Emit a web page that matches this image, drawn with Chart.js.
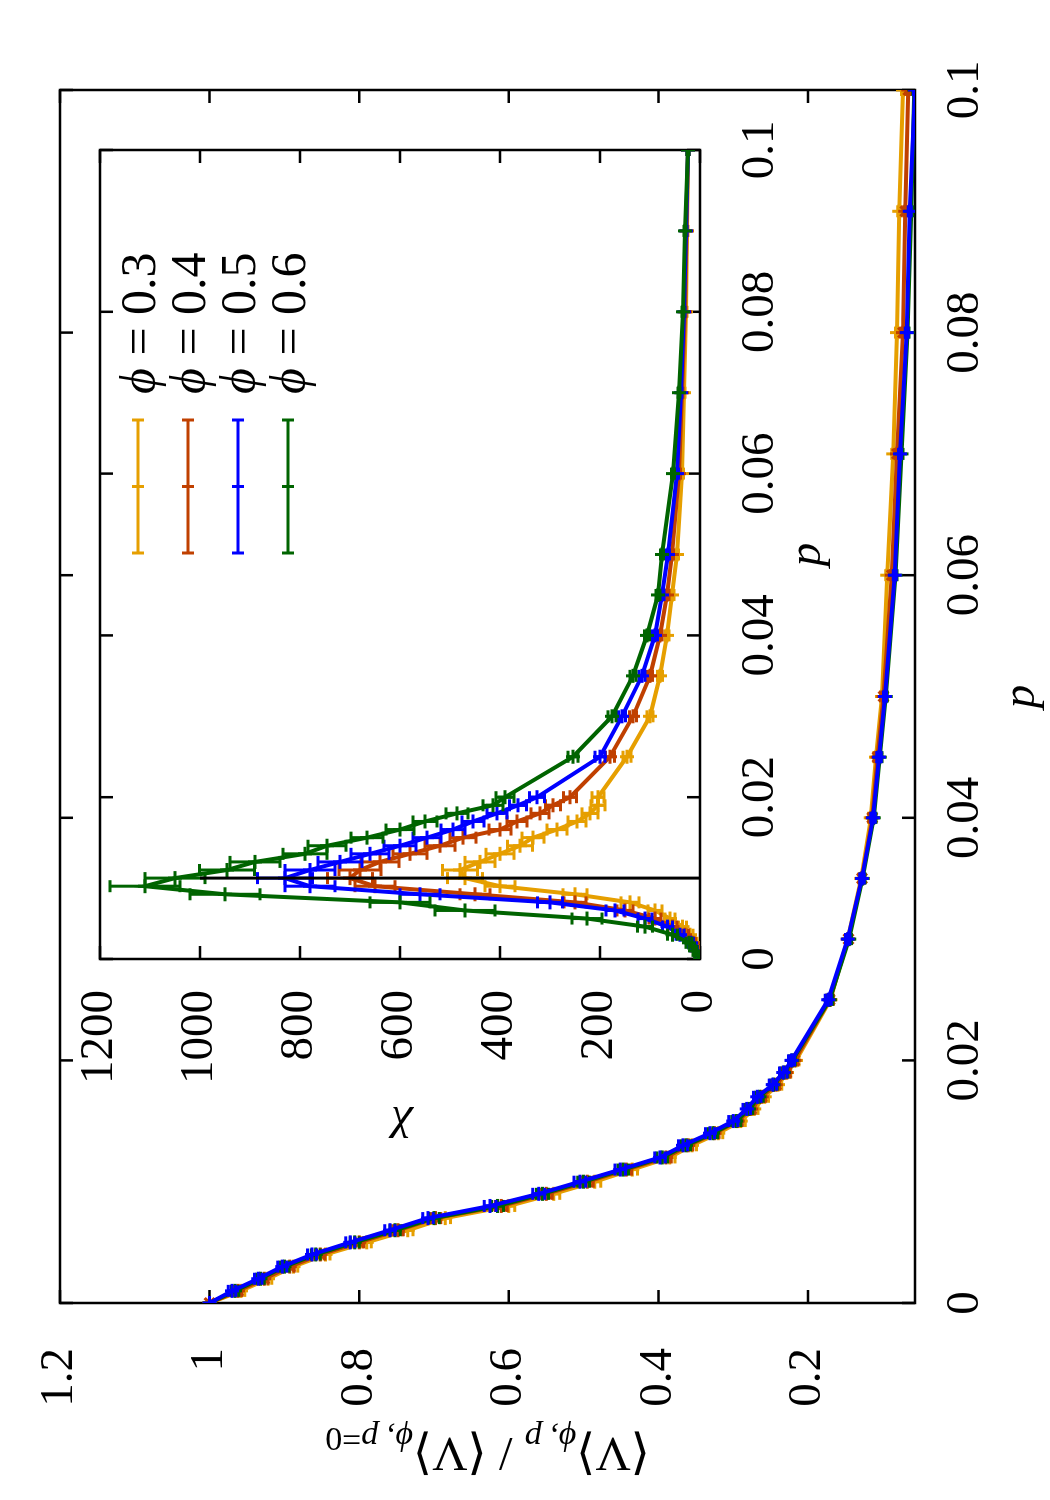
<!DOCTYPE html>
<html>
<head>
<meta charset="utf-8">
<script src="https://cdn.jsdelivr.net/npm/chart.js@4.4.1/dist/chart.umd.min.js"></script>
<style>
  html, body { margin: 0; padding: 0; background: #fff; overflow: hidden; }
  /* the figure is drawn landscape and turned a quarter turn, like the original eps */
  #page { position: absolute; left: 0; top: 0; width: 1500px; height: 1050px;
          transform-origin: 0 0; transform: translate(0, 1500px) rotate(-90deg); background: #fff; }
  #page canvas { position: absolute; left: 0; top: 0; }
</style>
</head>
<body>
<div id="page">
  <canvas id="mainChart" width="1500" height="1050"></canvas>
  <canvas id="insetChart" width="1500" height="1050"></canvas>
</div>
<script>
const FONT = '"Liberation Serif", "DejaVu Serif", serif';

// legend entries
const phiLabels = ['0.3', '0.4', '0.5', '0.6'];

// shared p grid
const pValues = [0, 0.001, 0.002, 0.003, 0.004, 0.005, 0.006, 0.007, 0.008, 0.009, 0.01,
  0.011, 0.012, 0.013, 0.014, 0.015, 0.016, 0.017, 0.018, 0.019, 0.02,
  0.025, 0.03, 0.035, 0.04, 0.045, 0.05, 0.06, 0.07, 0.08, 0.09, 0.1];

// main plot: <V>_{phi,p} / <V>_{phi,p=0}
const ratio03 = [1, 0.958, 0.922, 0.888, 0.845, 0.79, 0.735, 0.685, 0.6, 0.54, 0.485,
  0.435, 0.385, 0.355, 0.32, 0.29, 0.272, 0.258, 0.24, 0.228, 0.216,
  0.17, 0.147, 0.129, 0.116, 0.109, 0.101, 0.094, 0.086, 0.081, 0.078, 0.073];
const ratio04 = [1, 0.962, 0.927, 0.893, 0.852, 0.8, 0.748, 0.698, 0.61, 0.55, 0.495,
  0.443, 0.39, 0.36, 0.325, 0.294, 0.276, 0.262, 0.243, 0.229, 0.218,
  0.171, 0.146, 0.128, 0.114, 0.107, 0.099, 0.088, 0.081, 0.073, 0.07, 0.066];
const ratio05 = [1, 0.97, 0.935, 0.903, 0.863, 0.812, 0.759, 0.708, 0.625, 0.56, 0.505,
  0.451, 0.398, 0.367, 0.331, 0.3, 0.282, 0.268, 0.247, 0.233, 0.222,
  0.173, 0.147, 0.128, 0.113, 0.105, 0.097, 0.084, 0.077, 0.068, 0.064, 0.057];
const ratio06 = [1, 0.966, 0.932, 0.9, 0.858, 0.806, 0.752, 0.7, 0.615, 0.555, 0.5,
  0.447, 0.395, 0.363, 0.327, 0.296, 0.279, 0.265, 0.246, 0.232, 0.221,
  0.171, 0.145, 0.127, 0.112, 0.104, 0.096, 0.083, 0.075, 0.067, 0.062, 0.058];
const ratioErr = [0, 0.005, 0.005, 0.006, 0.006, 0.006, 0.007, 0.007, 0.008, 0.008, 0.008,
  0.007, 0.007, 0.006, 0.006, 0.006, 0.005, 0.005, 0.005, 0.005, 0.004,
  0.004, 0.003, 0.003, 0.003, 0.003, 0.002, 0.002, 0.002, 0.002, 0.002, 0.002];

// inset: susceptibility chi
const chi03 = [0, 5, 10, 20, 35, 60, 90, 140, 250, 400, 470,
  480, 440, 400, 360, 334, 286, 246, 220, 204, 204,
  146, 100, 80, 66, 56, 46, 36, 32, 28, 26, 24];
const chi04 = [0, 6, 14, 30, 55, 90, 150, 250, 450, 650, 700,
  680, 640, 580, 520, 474, 400, 366, 320, 294, 260,
  180, 134, 100, 80, 66, 56, 42, 36, 30, 27, 24];
const chi05 = [0, 8, 18, 40, 65, 110, 170, 300, 560, 780, 830,
  780, 720, 660, 600, 546, 494, 454, 406, 364, 326,
  200, 156, 116, 90, 76, 64, 46, 38, 32, 28, 24];
const chi06 = [0, 10, 22, 55, 110, 226, 470, 600, 950, 1110, 1050,
  946, 890, 790, 746, 666, 600, 550, 486, 414, 390,
  254, 176, 134, 106, 84, 76, 54, 42, 34, 30, 24];
const chiErr03 = [0, 3, 4, 6, 8, 10, 14, 18, 24, 30, 35, 35, 30, 28, 25, 22, 20, 18, 16, 14, 12, 8, 6, 5, 4, 4, 3, 3, 2, 2, 2, 2];
const chiErr04 = [0, 3, 5, 7, 9, 12, 16, 22, 30, 40, 45, 42, 38, 34, 30, 26, 22, 20, 18, 15, 13, 9, 7, 5, 4, 4, 3, 3, 2, 2, 2, 2];
const chiErr05 = [0, 3, 5, 8, 10, 14, 18, 25, 40, 50, 55, 50, 44, 38, 32, 28, 24, 22, 20, 17, 15, 10, 7, 6, 5, 4, 3, 3, 2, 2, 2, 2];
const chiErr06 = [0, 4, 6, 10, 15, 30, 60, 60, 70, 70, 60, 55, 50, 44, 38, 32, 28, 24, 22, 20, 18, 10, 8, 6, 5, 4, 3, 3, 2, 2, 2, 2];

// vertical marker in the inset
const markP = [0.01, 0.01];
const markChi = [0, 1000];

// ticks
const mainPTicks = [0, 0.02, 0.04, 0.06, 0.08, 0.1];
const mainRatioTicks = [0.2, 0.4, 0.6, 0.8, 1, 1.2];
const insetPTicks = [0, 0.02, 0.04, 0.06, 0.08, 0.1];
const insetChiTicks = [0, 200, 400, 600, 800, 1000, 1200];

const colors = ['#e69f00', '#c04000', '#0000ff', '#006400'];

function pts(ys) {
  return pValues.map((p, i) => ({ x: p, y: ys[i] }));
}
function fmt(v) {
  return String(Number(v.toFixed(3)));
}

function series(idx, ys, errs, order, style) {
  return {
    label: 'phi = ' + phiLabels[idx],
    data: pts(ys),
    errors: errs,
    borderColor: colors[idx],
    backgroundColor: colors[idx],
    borderWidth: 4,
    pointStyle: style || 'cross',
    pointRadius: 7,
    pointBorderWidth: 3,
    tension: 0,
    order: order
  };
}

// frame with inward ticks on all four sides
const framePlugin = {
  id: 'frame',
  beforeDatasetsDraw(chart) {
    const { ctx, chartArea: a, scales: { x, y } } = chart;
    const L = 13;
    ctx.save();
    ctx.strokeStyle = '#000';
    ctx.lineWidth = 2.5;
    ctx.beginPath();
    x.ticks.forEach(t => {
      const px = x.getPixelForValue(t.value);
      ctx.moveTo(px, a.bottom); ctx.lineTo(px, a.bottom - L);
      ctx.moveTo(px, a.top); ctx.lineTo(px, a.top + L);
    });
    y.ticks.forEach(t => {
      const py = y.getPixelForValue(t.value);
      ctx.moveTo(a.left, py); ctx.lineTo(a.left + L, py);
      ctx.moveTo(a.right, py); ctx.lineTo(a.right - L, py);
    });
    ctx.stroke();
    ctx.strokeRect(a.left, a.top, a.right - a.left, a.bottom - a.top);
    ctx.restore();
  }
};

// error bars, drawn right after each dataset
const errorBars = {
  id: 'errorBars',
  afterDatasetDraw(chart, args) {
    const ds = chart.data.datasets[args.index];
    if (!ds.errors) return;
    const { ctx, chartArea: a, scales: { x, y } } = chart;
    ctx.save();
    ctx.beginPath();
    ctx.rect(a.left, a.top, a.right - a.left, a.bottom - a.top);
    ctx.clip();
    ctx.strokeStyle = ds.borderColor;
    ctx.lineWidth = 3;
    ctx.beginPath();
    ds.data.forEach((pt, i) => {
      const e = ds.errors[i];
      if (!e) return;
      const px = x.getPixelForValue(pt.x);
      const y1 = y.getPixelForValue(pt.y - e);
      const y2 = y.getPixelForValue(pt.y + e);
      ctx.moveTo(px, y1); ctx.lineTo(px, y2);
      ctx.moveTo(px - 6, y1); ctx.lineTo(px + 6, y1);
      ctx.moveTo(px - 6, y2); ctx.lineTo(px + 6, y2);
    });
    ctx.stroke();
    ctx.restore();
  }
};

// draws mixed-font text; centred on cx unless left is set
function drawPieces(ctx, pieces, cx, cy, left) {
  let w = 0;
  pieces.forEach(p => { ctx.font = p.font; w += ctx.measureText(p.t).width; });
  let xx = left ? cx : cx - w / 2;
  ctx.textAlign = 'left';
  pieces.forEach(p => {
    ctx.font = p.font;
    ctx.fillText(p.t, xx, cy + (p.dy || 0));
    xx += ctx.measureText(p.t).width;
  });
}

const mainTitles = {
  id: 'mainTitles',
  afterDraw(chart) {
    const { ctx, chartArea: a } = chart;
    ctx.save();
    ctx.fillStyle = '#000';
    ctx.textBaseline = 'alphabetic';
    ctx.textAlign = 'center';
    ctx.font = 'italic 47px ' + FONT;
    ctx.fillText('p', (a.left + a.right) / 2, 1034);
    ctx.translate(62, (a.top + a.bottom) / 2);
    ctx.rotate(-Math.PI / 2);
    const big = '49px ' + FONT, sub = 'italic 34px ' + FONT, subUp = '34px ' + FONT;
    drawPieces(ctx, [
      { t: '\u27E8V\u27E9', font: big },
      { t: '\u03D5, p', font: sub, dy: 10 },
      { t: ' / ', font: big },
      { t: '\u27E8V\u27E9', font: big },
      { t: '\u03D5, p', font: sub, dy: 10 },
      { t: '=0', font: subUp, dy: 10 }
    ], 0, 0);
    ctx.restore();
  }
};

const insetTitles = {
  id: 'insetTitles',
  afterDraw(chart) {
    const { ctx, chartArea: a } = chart;
    ctx.save();
    ctx.fillStyle = '#000';
    ctx.textBaseline = 'alphabetic';
    ctx.textAlign = 'center';
    ctx.font = 'italic 47px ' + FONT;
    ctx.fillText('p', (a.left + a.right) / 2, 820);
    ctx.save();
    ctx.translate(383, (a.top + a.bottom) / 2);
    ctx.rotate(-Math.PI / 2);
    ctx.fillText('\u03C7', 0, 0);
    ctx.restore();

    // key: error-bar sample then label
    chart.data.datasets.forEach((ds, i) => {
      if (!ds.errors) return;
      const yy = 138 + i * 50;
      const x0 = 947, x1 = 1080, xm = (x0 + x1) / 2;
      ctx.strokeStyle = ds.borderColor;
      ctx.lineWidth = 3;
      ctx.beginPath();
      ctx.moveTo(x0, yy); ctx.lineTo(x1, yy);
      ctx.moveTo(x0, yy - 6); ctx.lineTo(x0, yy + 6);
      ctx.moveTo(x1, yy - 6); ctx.lineTo(x1, yy + 6);
      ctx.moveTo(xm, yy - 6); ctx.lineTo(xm, yy + 6);
      ctx.stroke();
      drawPieces(ctx, [
        { t: '\u03D5', font: 'italic 50px ' + FONT },
        { t: ' = ' + phiLabels[i], font: '50px ' + FONT }
      ], 1106, yy + 17, true);
    });
    ctx.restore();
  }
};

function axis(min, max, tickList, size, pad, fitKey) {
  return {
    type: 'linear', min: min, max: max,
    grid: { display: false, drawTicks: false },
    border: { display: false },
    afterBuildTicks: s => { s.ticks = tickList.map(v => ({ value: v })); },
    afterFit: s => {
      s[fitKey] = size;
      // labels may overhang the frame; keep the plot box where the layout puts it
      s.paddingTop = 0; s.paddingBottom = 0; s.paddingLeft = 0; s.paddingRight = 0;
    },
    ticks: {
      font: { family: FONT, size: 47 }, color: '#000', padding: pad,
      maxRotation: 0, autoSkip: false, callback: v => fmt(v)
    }
  };
}

Chart.defaults.devicePixelRatio = 1;

new Chart(document.getElementById('mainChart'), {
  type: 'line',
  data: {
    datasets: [
      series(0, ratio03, ratioErr, 3),
      series(1, ratio04, ratioErr, 2, 'star'),
      series(2, ratio05, ratioErr, 0),
      series(3, ratio06, ratioErr, 1)
    ]
  },
  options: {
    responsive: false, animation: false, devicePixelRatio: 1,
    layout: { autoPadding: false, padding: { left: 77, right: 90, top: 60, bottom: 0 } },
    plugins: { legend: { display: false }, tooltip: { enabled: false } },
    scales: {
      x: axis(0, 0.1, mainPTicks, 135, 22, 'height'),
      y: axis(0.057, 1.2, mainRatioTicks, 120, 45, 'width')
    }
  },
  plugins: [framePlugin, errorBars, mainTitles]
});

new Chart(document.getElementById('insetChart'), {
  type: 'line',
  data: {
    datasets: [
      series(0, chi03, chiErr03, 3),
      series(1, chi04, chiErr04, 2),
      series(2, chi05, chiErr05, 1),
      series(3, chi06, chiErr06, 0),
      {
        label: 'p = 0.01',
        data: markP.map((p, i) => ({ x: p, y: markChi[i] })),
        borderColor: '#000', borderWidth: 3, pointRadius: 0, order: -1
      }
    ]
  },
  options: {
    responsive: false, animation: false, devicePixelRatio: 1,
    layout: { autoPadding: false, padding: { left: 400, right: 150, top: 100, bottom: 250 } },
    plugins: { legend: { display: false }, tooltip: { enabled: false } },
    scales: {
      x: axis(0, 0.1, insetPTicks, 100, 32, 'height'),
      y: axis(0, 1200, insetChiTicks, 141, 31, 'width')
    }
  },
  plugins: [framePlugin, errorBars, insetTitles]
});
</script>
</body>
</html>
